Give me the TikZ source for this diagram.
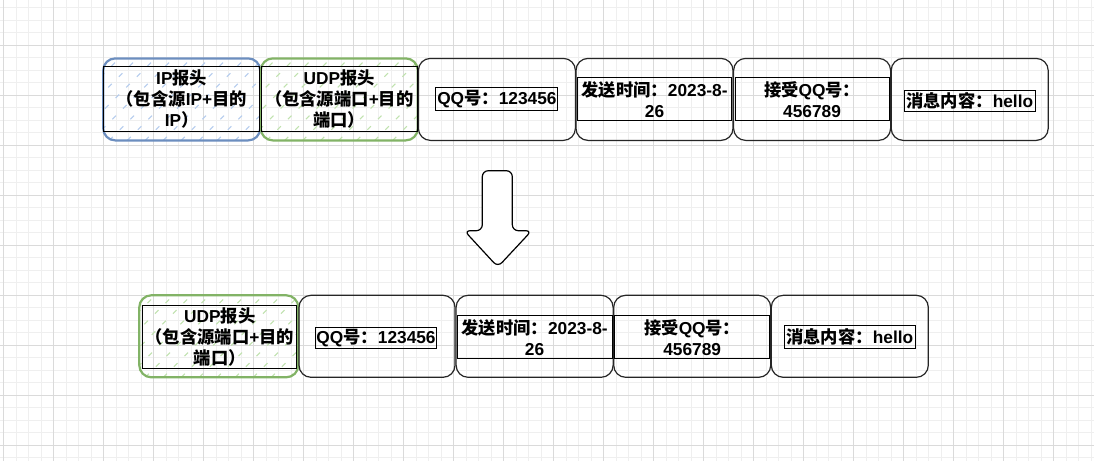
\documentclass[tikz,border=0pt]{standalone}
\usepackage{fontspec}
\setmainfont{Liberation Sans}
\newfontfamily\cjkfont{Noto Sans CJK SC}
\newcommand\cjk[1]{{\cjkfont #1}}
\usetikzlibrary{calc}

\definecolor{hdrBlue}{HTML}{6C8EBF}
\definecolor{hdrGreen}{HTML}{82B366}
\definecolor{hatchBlue}{HTML}{B4CCEE}
\definecolor{hatchGreen}{HTML}{C0E2AE}
\definecolor{gridMinor}{HTML}{EFEFEF}
\definecolor{gridMajor}{HTML}{DADADA}

\tikzset{
    field/.style={draw=black!85, line width=1.2pt, rounded corners=12pt,
        minimum width=157pt, minimum height=82pt},
    header/.style={field, draw=#1, line width=2.2pt},
    hatched/.style={path picture={
        \foreach \s in {-120,-102,...,200}
            \draw[#1, line width=1.1pt, dash pattern=on 5pt off 10pt]
            ($(path picture bounding box.south west)+(\s,0)$) -- ++(110,-110);
    }},
    txtbox/.style={draw, line width=0.9pt, inner sep=1pt, align=center,
        font=\bfseries\fontsize{17.3}{21}\selectfont}
}

\begin{document}
\begin{tikzpicture}[x=1pt, y=-1pt]
        % Parameters
        \def\pitch{157.6}
        \def\topY{99.4}
        \def\botY{336.3}

        % Canvas and grid
        \useasboundingbox[fill=white] (0,0) rectangle (1094,461);
        \foreach \k in {0,...,87} \draw[gridMinor] (3.3+12.5*\k,0) -- ++(0,461);
        \foreach \k in {0,...,36} \draw[gridMinor] (0,7.5+12.5*\k) -- ++(1094,0);
        \foreach \k in {0,...,21} \draw[gridMajor] (3.3+50*\k,0) -- ++(0,461);
        \foreach \k in {1,...,9} \draw[gridMajor] (0,-5+50*\k) -- ++(1094,0);

        % Datagram with IP header
        \node[header=hdrBlue, hatched=hatchBlue] (ipHdr) at (181.7,\topY) {};
        \node[header=hdrGreen, hatched=hatchGreen] (udpHdr) at ($(ipHdr)+(\pitch,0)$) {};
        \node[field] (qqNo) at ($(udpHdr)+(\pitch,0)$) {};
        \node[field] (sendTime) at ($(qqNo)+(\pitch,0)$) {};
        \node[field] (recvQQ) at ($(sendTime)+(\pitch,0)$) {};
        \node[field] (msgBody) at ($(recvQQ)+(\pitch,0)$) {};

        \node[txtbox, minimum width=156pt, minimum height=65pt] (ipTxt) at (ipHdr)
            {IP\cjk{报头}\\\cjk{（包含源}IP+\cjk{目的}\\IP\cjk{）}};
        \node[txtbox, minimum width=156pt, minimum height=65pt] (udpTxt) at (udpHdr)
            {UDP\cjk{报头}\\\cjk{（包含源端口}+\cjk{目的}\\\cjk{端口）}};
        \node[txtbox, minimum width=122pt, minimum height=23pt] (qqTxt) at (qqNo)
            {QQ\cjk{号：}123456};
        \node[txtbox, minimum width=154pt, minimum height=43pt] (timeTxt) at (sendTime)
            {\cjk{发送时间：}2023-8-\\26};
        \node[txtbox, minimum width=154pt, minimum height=43pt] (recvTxt) at (recvQQ)
            {\cjk{接受}QQ\cjk{号：}\\456789};
        \node[txtbox, minimum width=131pt, minimum height=21pt] (msgTxt) at ($(msgBody)+(0,1.5)$)
            {\cjk{消息内容：}hello};

        % Strip arrow
        \draw[line width=1.2pt, rounded corners=6pt, fill=white]
            (482.3,170.7) -- (512.3,170.7) -- (512.3,230.7) -- (531.7,230.7)
            -- (497.8,267) -- (464.3,230.7) -- (482.3,230.7) -- cycle;

        % Datagram with UDP header only
        \node[header=hdrGreen, hatched=hatchGreen, minimum width=159pt] (udpHdrB) at (218.8,\botY) {};
        \node[field, minimum width=156pt] (qqNoB) at (377,\botY) {};
        \node[field] (sendTimeB) at ($(qqNoB)+(\pitch,0)$) {};
        \node[field] (recvQQB) at ($(sendTimeB)+(\pitch,0)$) {};
        \node[field] (msgBodyB) at ($(recvQQB)+(\pitch,0)$) {};

        \node[txtbox, minimum width=154pt, minimum height=63pt] (udpTxtB) at ($(udpHdrB)+(1,1)$)
            {UDP\cjk{报头}\\\cjk{（包含源端口}+\cjk{目的}\\\cjk{端口）}};
        \node[txtbox, minimum width=120pt, minimum height=21pt] (qqTxtB) at ($(qqNoB)+(-1,1.5)$)
            {QQ\cjk{号：}123456};
        \node[txtbox, minimum width=155pt, minimum height=43pt] (timeTxtB) at ($(sendTimeB)+(0,1)$)
            {\cjk{发送时间：}2023-8-\\26};
        \node[txtbox, minimum width=155pt, minimum height=43pt] (recvTxtB) at ($(recvQQB)+(0,1)$)
            {\cjk{接受}QQ\cjk{号：}\\456789};
        \node[txtbox, minimum width=131pt, minimum height=23pt] (msgTxtB) at ($(msgBodyB)+(0,1)$)
            {\cjk{消息内容：}hello};
\end{tikzpicture}
\end{document}
